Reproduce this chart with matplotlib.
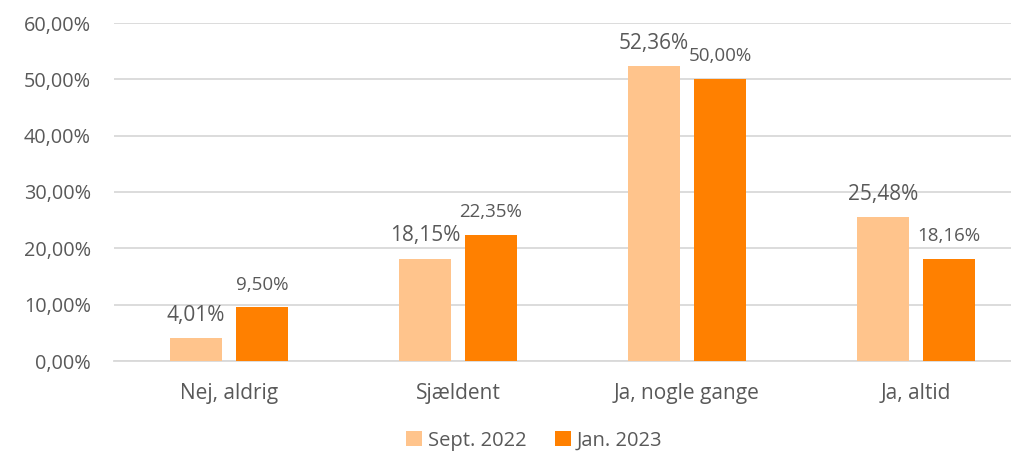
import numpy as np
import matplotlib.pyplot as plt
from matplotlib.ticker import FuncFormatter

# data
categories = ["Nej, aldrig", "Sjældent", "Ja, nogle gange", "Ja, altid"]
sept_2022 = [4.01, 18.15, 52.36, 25.48]
jan_2023 = [9.50, 22.35, 50.00, 18.16]
series_labels = ["Sept. 2022", "Jan. 2023"]

plt.rcParams["font.family"] = ["Open Sans", "DejaVu Sans"]
text_col = "#595959"
c_sept = "#FFC48C"
c_jan = "#FF8000"

fig = plt.figure(figsize=(10.12, 4.55), dpi=100)
ax = fig.add_axes([114.5 / 1012, 94 / 455, 916 / 1012, 338 / 455])

x = np.arange(len(categories))
w = 0.227
off = 0.144

b1 = ax.bar(x - off, sept_2022, w, color=c_sept, label=series_labels[0], zorder=3)
b2 = ax.bar(x + off, jan_2023, w, color=c_jan, label=series_labels[1], zorder=3)

fmt = lambda v: f"{v:.2f}".replace(".", ",") + "%"

for rect, v in zip(b1, sept_2022):
    ax.annotate(fmt(v), (rect.get_x() + rect.get_width() / 2, v),
                xytext=(0, 9), textcoords="offset points",
                ha="center", va="bottom", fontsize=15, color=text_col)
for rect, v in zip(b2, jan_2023):
    ax.annotate(fmt(v), (rect.get_x() + rect.get_width() / 2, v),
                xytext=(0, 10), textcoords="offset points",
                ha="center", va="bottom", fontsize=13.5, color=text_col)

ax.set_xlim(-0.5, 3.5)
ax.set_ylim(0, 60)
ax.set_yticks(np.arange(0, 61, 10))
ax.yaxis.set_major_formatter(FuncFormatter(lambda v, p: fmt(v)))
ax.set_xticks(x)
ax.set_xticklabels(categories)
ax.tick_params(axis="y", length=0, pad=17, labelsize=14.3, labelcolor=text_col)
ax.tick_params(axis="x", length=0, pad=16, labelsize=15, labelcolor=text_col)

ax.grid(axis="y", color="#D9D9D9", linewidth=1.3, zorder=0)
for s in ["top", "right", "left"]:
    ax.spines[s].set_visible(False)
ax.spines["bottom"].set_color("#D9D9D9")
ax.spines["bottom"].set_linewidth(1.3)

fig.legend(loc="lower center", bbox_to_anchor=(0.528, -0.03),
           ncol=2, frameon=False, fontsize=14.5, labelcolor=text_col,
           handlelength=0.8, handleheight=0.8, handletextpad=0.3, columnspacing=1.4)

fig.savefig("out.png", dpi=100)
